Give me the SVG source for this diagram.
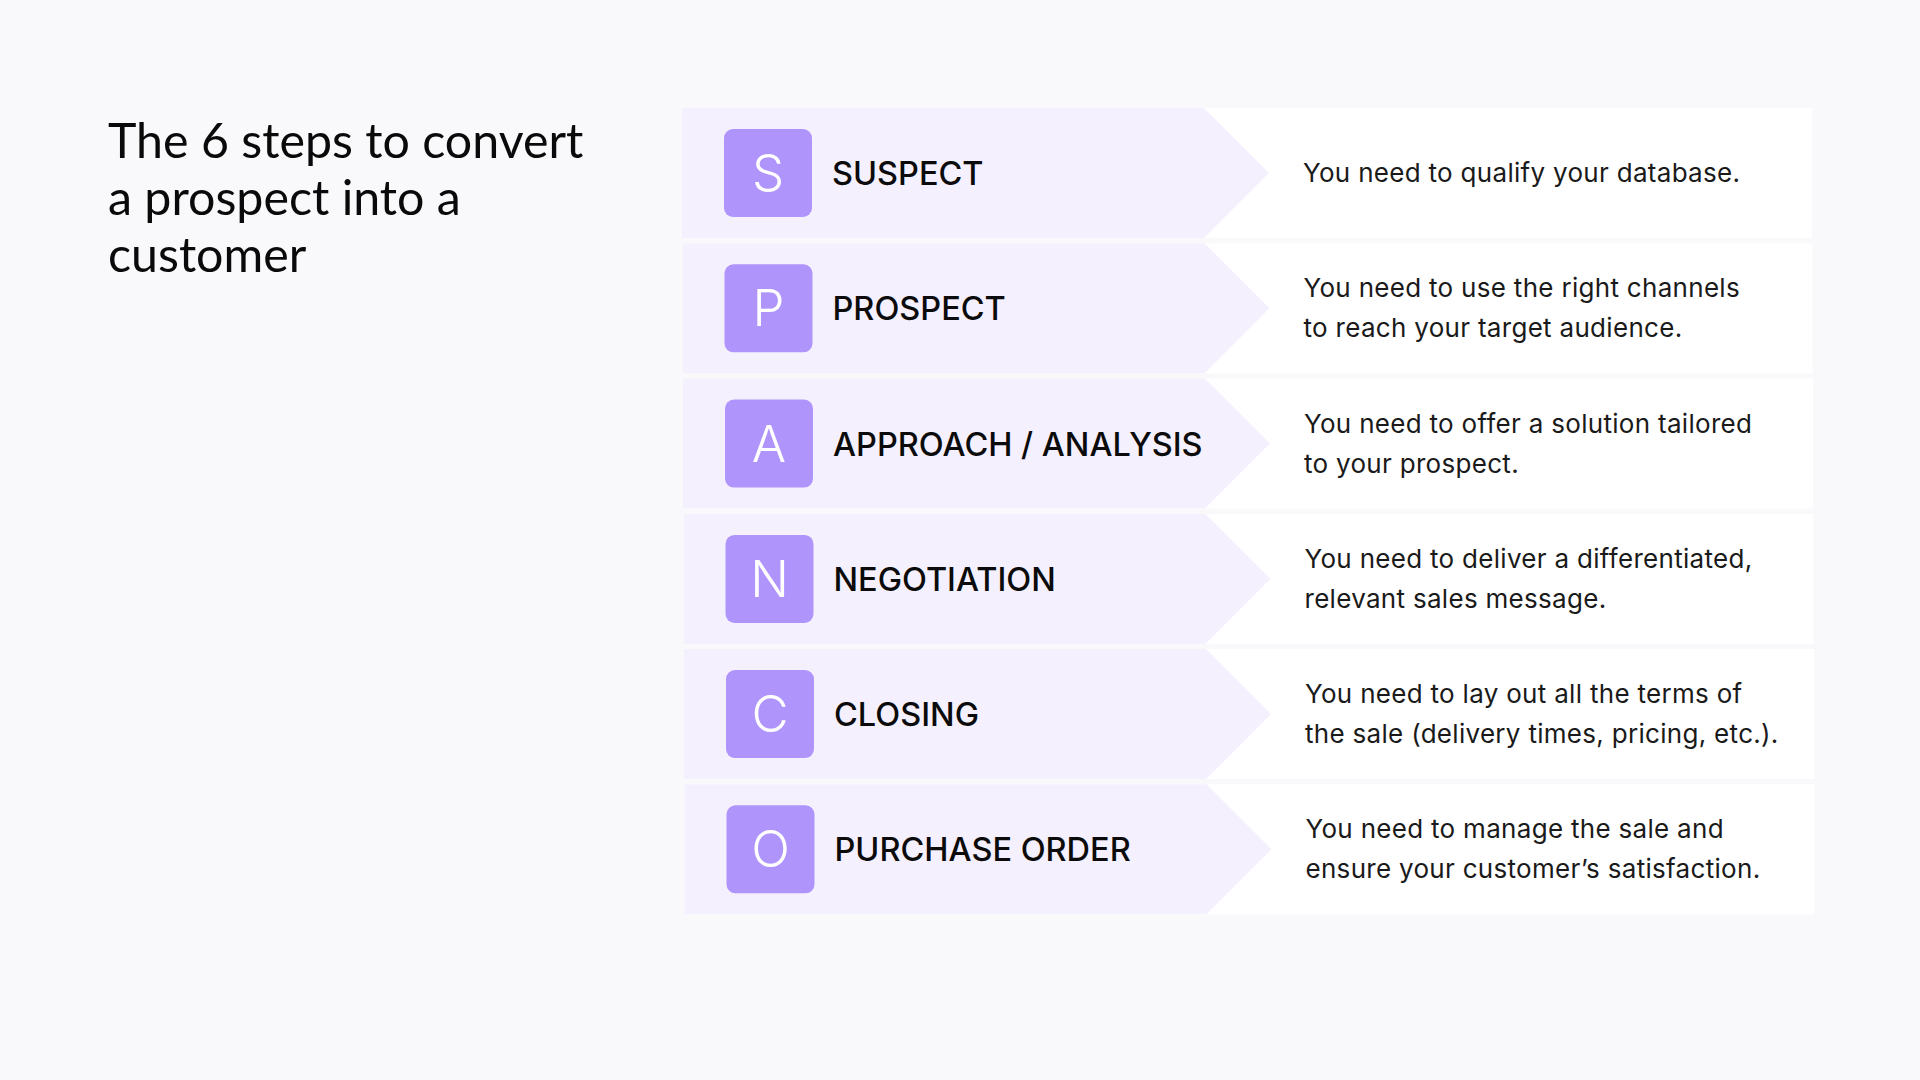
<svg xmlns="http://www.w3.org/2000/svg" width="1920" height="1080" viewBox="0 0 1920 1080">
<style>
.bg{fill:#F9F9FB}
.card{fill:#FFFFFF}
.chev{fill:#F5F0FE}
.box{fill:#AF94FC}
.letter{font-family:Inter,"Noto Sans",sans-serif;font-weight:300;font-size:51px;fill:#FFFFFF;text-anchor:middle}
.label{font-family:Inter,"Noto Sans",sans-serif;font-weight:500;font-size:32.5px;fill:#0B0B0B}
.desc{font-family:Inter,"Noto Sans",sans-serif;font-weight:400;font-size:26px;letter-spacing:0.3px;fill:#1A1A1A}
.title{font-family:Lato,"Noto Sans",sans-serif;font-weight:400;font-size:48.3px;fill:#0A0A0A}
</style>
<rect class="bg" x="0" y="0" width="1920" height="1080"/>
<g id="title">
<text class="title" x="108" y="158">The 6 steps to convert</text>
<text class="title" x="108" y="215">a prospect into a</text>
<text class="title" x="108" y="272">customer</text>
</g>
<g id="connectors"></g>
<g id="step-s" transform="translate(0,108)">
<rect class="card" x="682" y="0" width="1130" height="130"/>
<path class="chev" d="M682,0 H1204 L1269,65 L1204,130 H682 Z"/>
<rect class="box" x="724" y="21" width="88" height="88" rx="9"/>
<text class="letter" x="768" y="83">S</text>
<text class="label" x="832" y="77">SUSPECT</text>
<text class="desc" x="1303" y="74">You need to qualify your database.</text>
</g>
<g id="step-p" transform="translate(0.5,243.3)">
<rect class="card" x="682" y="0" width="1130" height="130"/>
<path class="chev" d="M682,0 H1204 L1269,65 L1204,130 H682 Z"/>
<rect class="box" x="724" y="21" width="88" height="88" rx="9"/>
<text class="letter" x="768" y="83">P</text>
<text class="label" x="832" y="77">PROSPECT</text>
<text class="desc" x="1303" y="54">You need to use the right channels</text>
<text class="desc" x="1303" y="94">to reach your target audience.</text>
</g>
<g id="step-a" transform="translate(1,378.6)">
<rect class="card" x="682" y="0" width="1130" height="130"/>
<path class="chev" d="M682,0 H1204 L1269,65 L1204,130 H682 Z"/>
<rect class="box" x="724" y="21" width="88" height="88" rx="9"/>
<text class="letter" x="768" y="83">A</text>
<text class="label" x="832" y="77">APPROACH / ANALYSIS</text>
<text class="desc" x="1303" y="54">You need to offer a solution tailored</text>
<text class="desc" x="1303" y="94">to your prospect.</text>
</g>
<g id="step-n" transform="translate(1.5,513.9)">
<rect class="card" x="682" y="0" width="1130" height="130"/>
<path class="chev" d="M682,0 H1204 L1269,65 L1204,130 H682 Z"/>
<rect class="box" x="724" y="21" width="88" height="88" rx="9"/>
<text class="letter" x="768" y="83">N</text>
<text class="label" x="832" y="77">NEGOTIATION</text>
<text class="desc" x="1303" y="54">You need to deliver a differentiated,</text>
<text class="desc" x="1303" y="94">relevant sales message.</text>
</g>
<g id="step-c" transform="translate(2,649.1)">
<rect class="card" x="682" y="0" width="1130" height="130"/>
<path class="chev" d="M682,0 H1204 L1269,65 L1204,130 H682 Z"/>
<rect class="box" x="724" y="21" width="88" height="88" rx="9"/>
<text class="letter" x="768" y="83">C</text>
<text class="label" x="832" y="77">CLOSING</text>
<text class="desc" x="1303" y="54">You need to lay out all the terms of</text>
<text class="desc" x="1303" y="94">the sale (delivery times, pricing, etc.).</text>
</g>
<g id="step-o" transform="translate(2.5,784.3)">
<rect class="card" x="682" y="0" width="1130" height="130"/>
<path class="chev" d="M682,0 H1204 L1269,65 L1204,130 H682 Z"/>
<rect class="box" x="724" y="21" width="88" height="88" rx="9"/>
<text class="letter" x="768" y="83">O</text>
<text class="label" x="832" y="77">PURCHASE ORDER</text>
<text class="desc" x="1303" y="54">You need to manage the sale and</text>
<text class="desc" x="1303" y="94">ensure your customer’s satisfaction.</text>
</g>
</svg>
